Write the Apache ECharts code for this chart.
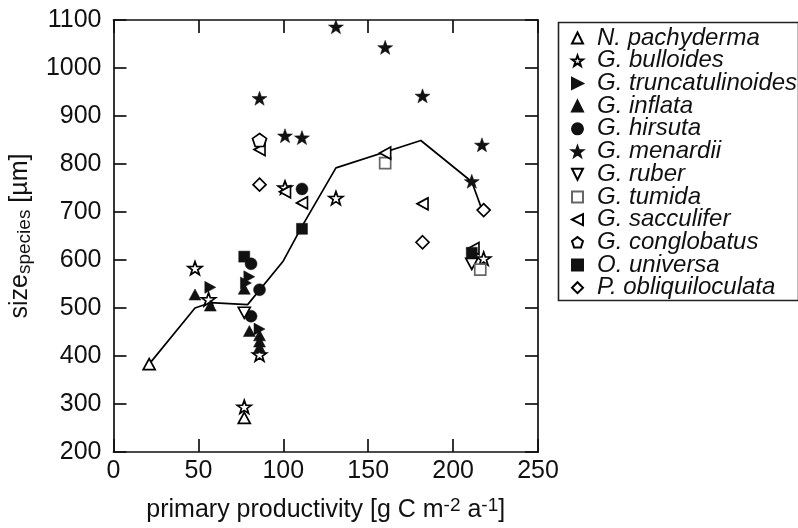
<!DOCTYPE html>
<html>
<head>
<meta charset="utf-8">
<script src="https://cdn.jsdelivr.net/npm/echarts@6/dist/echarts.min.js"></script>
<style>html,body{margin:0;padding:0;background:#fff;}#c{width:798px;height:528px;}</style>
</head>
<body>
<div id="c"></div>
<script>
var xTicks = [0, 50, 100, 150, 200, 250];
var yTicks = [200, 300, 400, 500, 600, 700, 800, 900, 1000, 1100];

var nPachyderma = [[21,383],[77,271]];
var gBulloides = [[48,583],[56,518],[77,294],[86,403],[101,751],[131,729],[218,603]];
var gTruncatulinoides = [[57,543],[80,565],[78,552],[86,456]];
var gInflata = [[48,528],[57,505],[77,540],[80,452],[86,443],[86,430],[86,418]];
var gHirsuta = [[81,592],[86,538],[81,483],[111,748]];
var gMenardii = [[86,937],[101,859],[111,855],[131,1086],[160,1043],[182,942],[217,840],[211,764]];
var gRuber = [[77,490],[211,592]];
var gTumida = [[160,802],[216,580]];
var gSacculifer = [[86,830],[101,742],[111,719],[160,823],[182,717],[212,624]];
var gConglobatus = [[86,850]];
var oUniversa = [[77,607],[111,665],[211,615]];
var pObliquiloculata = [[86,757],[182,637],[218,704]];
var meanLine = [[21,383],[48,500],[57,511],[79,507],[100,598],[111,670],[131,792],[181,849],[211,763],[217,705]];

var STAR = 'path://M0,-10 L2.35,-3.24 L9.51,-3.09 L3.8,1.24 L5.88,8.09 L0,4 L-5.88,8.09 L-3.8,1.24 L-9.51,-3.09 L-2.35,-3.24 Z';
var RTRI = 'path://M0,0 L10,5 L0,10 Z';
var LTRI = 'path://M10,0 L0,5 L10,10 Z';
var DTRI = 'path://M0,0 L10,0 L5,10 Z';
var PENT = 'path://M0,-10 L9.51,-3.09 L5.88,8.09 L-5.88,8.09 L-9.51,-3.09 Z';

var species = [
  {name:'N. pachyderma', data:nPachyderma, symbol:'triangle', size:[12,11], open:true},
  {name:'G. bulloides', data:gBulloides, symbol:STAR, size:[14,13], open:true},
  {name:'G. truncatulinoides', data:gTruncatulinoides, symbol:RTRI, size:[11,12], open:false},
  {name:'G. inflata', data:gInflata, symbol:'triangle', size:[12,11], open:false},
  {name:'G. hirsuta', data:gHirsuta, symbol:'circle', size:12, open:false},
  {name:'G. menardii', data:gMenardii, symbol:STAR, size:[15,14], open:false},
  {name:'G. ruber', data:gRuber, symbol:DTRI, size:[12,11], open:true},
  {name:'G. tumida', data:gTumida, symbol:'rect', size:11, open:true, border:'#666'},
  {name:'G. sacculifer', data:gSacculifer, symbol:LTRI, size:[11,12], open:true},
  {name:'G. conglobatus', data:gConglobatus, symbol:PENT, size:[14,13], open:true},
  {name:'O. universa', data:oUniversa, symbol:'rect', size:11, open:false},
  {name:'P. obliquiloculata', data:pObliquiloculata, symbol:'diamond', size:13, open:true}
];

var FONT = 'Liberation Sans';
var NARROW = '"Liberation Sans Narrow", "Liberation Sans"';
var series = species.map(function(s){
  return {
    name: s.name, type:'scatter', data: s.data, symbol: s.symbol, symbolSize: s.size,
    itemStyle: s.open ? {color:'#fff', borderColor: s.border || '#000', borderWidth:1.7, opacity:1}
                      : {color:'#111', borderColor:'#111', borderWidth:0.5, opacity:1},
    z: 3
  };
});
series.push({
  name:'mean', type:'line', data: meanLine, showSymbol:false, symbol:'none',
  lineStyle:{color:'#000', width:1.7}, z:2, silent:true
});

var chart = echarts.init(document.getElementById('c'), null, {renderer:'canvas'});
var axisCommon = {
  axisLine:{show:true, onZero:false, lineStyle:{color:'#111', width:1.7}},
  axisTick:{show:true, inside:true, length:13, lineStyle:{color:'#111', width:1.7}},
  splitLine:{show:false}
};
chart.setOption({
  animation:false,
  backgroundColor:'#fff',
  textStyle:{fontFamily:FONT},
  grid:{left:111, right:260, top:20, bottom:75, containLabel:false},
  legend:{
    orient:'vertical', left:571, top:26,
    data: species.map(function(s){return s.name;}),
    itemWidth:11, itemHeight:11, itemGap:-1.3,
    padding:0,
    textStyle:{fontFamily:FONT, fontStyle:'italic', fontSize:24, color:'#111', lineHeight:22, padding:[0,0,0,9]},
    selectedMode:false
  },
  graphic:[{type:'rect', left:556, top:20, shape:{width:240, height:278}, style:{fill:'none', stroke:'#222', lineWidth:1.6}, z:0}],
  xAxis:[
    Object.assign({type:'value', position:'bottom', min:0, max:250, interval:50,
      axisLabel:{fontSize:25, color:'#111', margin:7, fontFamily:NARROW},
      name:'{a|primary productivity [g C m}{s|-2}{a| a}{s|-1}{a|]}',
      nameLocation:'middle', nameGap:44,
      nameTextStyle:{rich:{a:{fontSize:25, color:'#111', fontFamily:FONT}, s:{fontSize:19, color:'#111', fontFamily:FONT, verticalAlign:'top', padding:[0,0,10,0]}}}
    }, axisCommon),
    Object.assign({type:'value', position:'top', min:0, max:250, interval:50, axisLabel:{show:false}}, axisCommon)
  ],
  yAxis:[
    Object.assign({type:'value', position:'left', min:200, max:1100, interval:100,
      axisLabel:{fontSize:25, color:'#111', margin:12, fontFamily:NARROW, formatter:function(v){return String(v);}},
      name:'{a|size}{s|species}{a| [µm]}',
      nameLocation:'middle', nameGap:79,
      nameTextStyle:{rich:{a:{fontSize:25, color:'#111', fontFamily:FONT}, s:{fontSize:19, color:'#111', fontFamily:FONT, verticalAlign:'bottom', padding:[9,0,0,0]}}}
    }, axisCommon),
    Object.assign({type:'value', position:'right', min:200, max:1100, interval:100, axisLabel:{show:false}}, axisCommon)
  ],
  series: series
});
</script>
</body>
</html>
